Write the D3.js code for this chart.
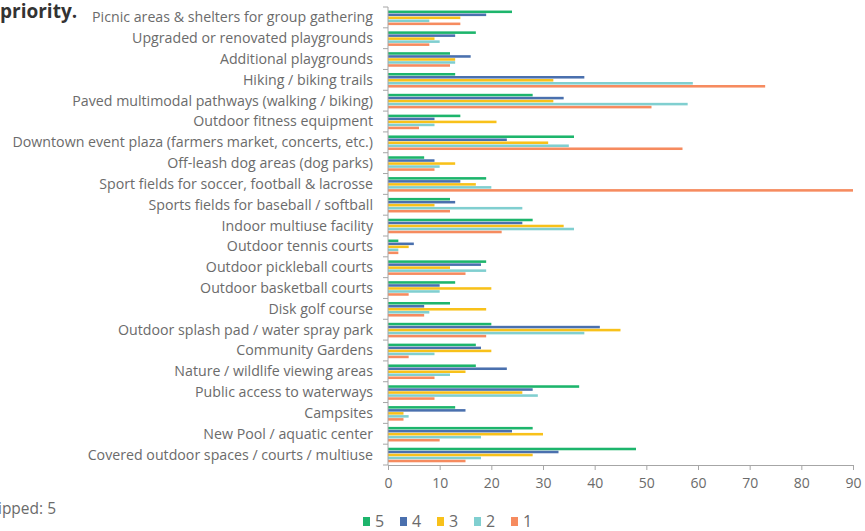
<!DOCTYPE html>
<html>
<head>
<meta charset="utf-8">
<script src="https://cdn.jsdelivr.net/npm/d3@7"></script>
<style>
  html, body { margin: 0; padding: 0; background: #ffffff; }
  svg { display: block; }
</style>
</head>
<body>
<svg id="chart" width="865" height="531"></svg>
<script>
const categories = [
  "Picnic areas & shelters for group gathering",
  "Upgraded or renovated playgrounds",
  "Additional playgrounds",
  "Hiking / biking trails",
  "Paved multimodal pathways (walking / biking)",
  "Outdoor fitness equipment",
  "Downtown event plaza (farmers market, concerts, etc.)",
  "Off-leash dog areas (dog parks)",
  "Sport fields for soccer, football & lacrosse",
  "Sports fields for baseball / softball",
  "Indoor multiuse facility",
  "Outdoor tennis courts",
  "Outdoor pickleball courts",
  "Outdoor basketball courts",
  "Disk golf course",
  "Outdoor splash pad / water spray park",
  "Community Gardens",
  "Nature / wildlife viewing areas",
  "Public access to waterways",
  "Campsites",
  "New Pool / aquatic center",
  "Covered outdoor spaces / courts / multiuse"
];
const seriesNames = ["5", "4", "3", "2", "1"];
const values5 = [24, 17, 12, 13, 28, 14, 36, 7, 19, 12, 28, 2, 19, 13, 12, 20, 17, 17, 37, 13, 28, 48];
const values4 = [19, 13, 16, 38, 34, 9, 23, 9, 14, 13, 26, 5, 18, 10, 7, 41, 18, 23, 28, 15, 24, 33];
const values3 = [14, 9, 13, 32, 32, 21, 31, 13, 17, 9, 34, 4, 12, 20, 19, 45, 20, 15, 26, 3, 30, 28];
const values2 = [8, 10, 13, 59, 58, 9, 35, 10, 20, 26, 36, 2, 19, 10, 8, 38, 9, 12, 29, 4, 18, 18];
const values1 = [14, 8, 12, 73, 51, 6, 57, 9, 90, 12, 22, 2, 15, 4, 7, 19, 4, 9, 9, 3, 10, 15];
const seriesValues = [values5, values4, values3, values2, values1];
const colors = ["#1db56c", "#4a70ae", "#f8c11a", "#80cfd0", "#f68b5f"];
const xTicks = [0, 10, 20, 30, 40, 50, 60, 70, 80, 90];
const titleTail = "priority.";
const skippedText = "Skipped: 5";

const svg = d3.select("#chart");
const textColor = "#6b6b6b";
const axisColor = "#a6a6a6";

const x = d3.scaleLinear().domain([0, 90]).range([388, 853]);
const y = d3.scaleBand().domain(categories).range([7, 465]).paddingInner(0).paddingOuter(0);
const bw = y.bandwidth();
const ySub = d3.scaleBand().domain(seriesNames).range([bw * 0.17, bw * 0.87]).paddingInner(0.15);

// bars
const groups = svg.append("g").selectAll("g")
  .data(categories)
  .join("g")
  .attr("transform", d => `translate(0,${y(d)})`);

groups.selectAll("rect")
  .data((c, i) => seriesNames.map((s, j) => ({ s, j, v: seriesValues[j][i] })))
  .join("rect")
  .attr("x", x(0))
  .attr("y", d => ySub(d.s))
  .attr("height", ySub.bandwidth())
  .attr("width", d => x(d.v) - x(0))
  .attr("fill", d => colors[d.j]);

// y axis line and tick marks (at category boundaries)
const yAxisG = svg.append("g");
yAxisG.append("line")
  .attr("x1", x(0)).attr("x2", x(0))
  .attr("y1", y.range()[0]).attr("y2", y.range()[1])
  .attr("stroke", axisColor).attr("stroke-width", 1);
const boundaries = categories.map(c => y(c)).concat([y.range()[1]]);
yAxisG.selectAll("line.tk")
  .data(boundaries)
  .join("line")
  .attr("class", "tk")
  .attr("x1", x(0) - 5).attr("x2", x(0))
  .attr("y1", d => d).attr("y2", d => d)
  .attr("stroke", axisColor).attr("stroke-width", 1);

// category labels
svg.append("g").selectAll("text")
  .data(categories)
  .join("text")
  .attr("x", 373)
  .attr("y", d => y(d) + bw / 2)
  .attr("dy", "0.35em")
  .attr("text-anchor", "end")
  .attr("font-family", "'Open Sans', sans-serif")
  .attr("font-size", 14.2)
  .attr("fill", textColor)
  .text(d => d);

// x axis
const xAxis = d3.axisBottom(x).tickValues(xTicks).tickSize(5).tickPadding(8).tickSizeOuter(0);
const xg = svg.append("g").attr("transform", `translate(0,${y.range()[1]})`).call(xAxis);
xg.select(".domain").attr("stroke", axisColor);
xg.selectAll(".tick line").attr("stroke", axisColor);
xg.selectAll(".tick text")
  .attr("font-family", "'Liberation Sans Narrow', 'Open Sans', sans-serif")
  .attr("font-size", 14)
  .attr("fill", textColor);

// title fragment
svg.append("text")
  .attr("x", 0).attr("y", 18)
  .attr("font-family", "'Open Sans', sans-serif")
  .attr("font-weight", "bold")
  .attr("font-size", 19)
  .attr("fill", "#333333")
  .text(titleTail);

// skipped
svg.append("text")
  .attr("x", 56).attr("y", 514)
  .attr("text-anchor", "end")
  .attr("font-family", "'Liberation Sans Narrow', 'Open Sans', sans-serif")
  .attr("font-size", 15.5)
  .attr("fill", textColor)
  .text(skippedText);

// legend
const legend = svg.append("g");
const items = legend.selectAll("g")
  .data(seriesNames)
  .join("g")
  .attr("transform", (d, i) => `translate(${363 + i * 37},0)`);
items.append("rect")
  .attr("x", 0).attr("y", 517).attr("width", 7).attr("height", 9)
  .attr("fill", (d, i) => colors[i]);
items.append("text")
  .attr("x", 12).attr("y", 527)
  .attr("font-family", "'Liberation Sans Narrow', 'Open Sans', sans-serif")
  .attr("font-size", 16)
  .attr("fill", textColor)
  .text(d => d);
</script>
</body>
</html>
